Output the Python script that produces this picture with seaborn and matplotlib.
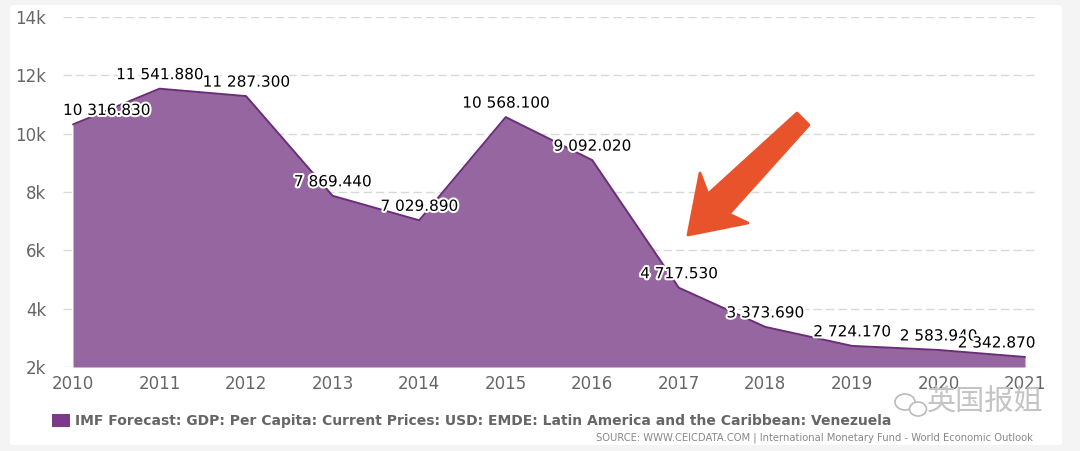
import matplotlib
matplotlib.use("Agg")
import matplotlib.pyplot as plt
import seaborn as sns
import pandas as pd
from matplotlib.patches import Polygon, FancyBboxPatch, Rectangle, Ellipse
import matplotlib.patheffects as pe

years = [2010, 2011, 2012, 2013, 2014, 2015, 2016, 2017, 2018, 2019, 2020, 2021]
gdp_per_capita = [10316.830, 11541.880, 11287.300, 7869.440, 7029.890, 10568.100,
                  9092.020, 4717.530, 3373.690, 2724.170, 2583.940, 2342.870]
y_ticks = [2000, 4000, 6000, 8000, 10000, 12000, 14000]
y_tick_labels = ["2k", "4k", "6k", "8k", "10k", "12k", "14k"]
series_name = ("IMF Forecast: GDP: Per Capita: Current Prices: USD: EMDE: "
               "Latin America and the Caribbean: Venezuela")
source_text = ("SOURCE: WWW.CEICDATA.COM | International Monetary Fund - "
               "World Economic Outlook")
watermark = "英国报姐"

df = pd.DataFrame({"year": years, "value": gdp_per_capita})

sns.set_theme(style="white")
plt.rcParams["font.family"] = ["DejaVu Sans", "Noto Sans CJK SC"]

W, H = 1080, 451
fig = plt.figure(figsize=(W / 100, H / 100), dpi=100)
fig.patch.set_facecolor("#f4f4f4")
fig.patches.append(FancyBboxPatch((10 / W, 6 / H), 1052 / W, 440 / H,
                                  boxstyle="round,pad=0,rounding_size=0.004",
                                  transform=fig.transFigure, facecolor="white",
                                  edgecolor="none", zorder=-10))

ax = fig.add_axes([63 / W, 1 - 367 / H, (1035 - 63) / W, 350 / H])
ax.set_facecolor("none")
ax.set_zorder(1)

fill_color = "#9566a0"
line_color = "#6b2d7a"
ax.fill_between(df["year"], df["value"], 2000, color=fill_color, linewidth=0, zorder=2)
sns.lineplot(data=df, x="year", y="value", ax=ax, color=line_color, linewidth=1.4,
             zorder=3, legend=False)

ax.set_xlim(2010 - 10 / 86.55, 2021 + 10 / 86.55)
ax.set_ylim(2000, 14000)
ax.set_yticks(y_ticks)
ax.set_yticklabels(y_tick_labels)
ax.set_xticks(years)
ax.set_xticklabels([str(y) for y in years])
for s in ax.spines.values():
    s.set_visible(False)
ax.grid(axis="y", color="#d8d8d8", linestyle=(0, (6, 3)), linewidth=1, zorder=1)
ax.grid(axis="x", visible=False)
ax.set_axisbelow(True)
ax.tick_params(axis="y", length=0, pad=12, labelsize=12, labelcolor="#666666")
ax.tick_params(axis="x", length=0, pad=6, labelsize=12, labelcolor="#666666")
ax.set_xlabel("")
ax.set_ylabel("")

# data labels (kept inside the plot area)
fig.canvas.draw()
renderer = fig.canvas.get_renderer()
ax_bbox = ax.get_window_extent(renderer)
for x, v in zip(years, gdp_per_capita):
    txt = f"{v:,.3f}".replace(",", " ")
    t = ax.annotate(txt, (x, v), xytext=(0, 14), textcoords="offset pixels",
                    ha="center", va="center", fontsize=11, color="black", zorder=5,
                    path_effects=[pe.withStroke(linewidth=3, foreground="white")])
    bb = t.get_window_extent(renderer)
    dx = 0
    if bb.x0 < ax_bbox.x0:
        dx = ax_bbox.x0 - bb.x0
    elif bb.x1 > ax_bbox.x1:
        dx = ax_bbox.x1 - bb.x1
    if dx:
        t.set_position((dx, 14))

# legend
fig.patches.append(Rectangle((52 / W, 1 - 427 / H), 18 / W, 13 / H,
                             transform=fig.transFigure, facecolor="#7b3b8a",
                             edgecolor="none"))
fig.text(75 / W, 1 - 421 / H, series_name, fontsize=10.0, fontweight="bold",
         color="#666666", ha="left", va="center")
fig.text(1033 / W, 1 - 438 / H, source_text, fontsize=7.2, color="#888888",
         ha="right", va="center")

# arrow annotation
arrow_pts = [(688, 235), (700, 173), (708, 194), (797, 113), (809, 125),
             (729, 214), (748, 223)]
fig.patches.append(Polygon([(px / W, 1 - py / H) for px, py in arrow_pts],
                           closed=True, transform=fig.transFigure,
                           facecolor="#e9532b", edgecolor="#e9532b",
                           linewidth=2, joinstyle="round", zorder=6))

# watermark
fig.patches.append(Ellipse((905 / W, 1 - 402 / H), 20 / W, 16 / H,
                           transform=fig.transFigure, facecolor="none",
                           edgecolor="#bbbbbb", linewidth=1.2))
fig.patches.append(Ellipse((918 / W, 1 - 409 / H), 17 / W, 14 / H,
                           transform=fig.transFigure, facecolor="white",
                           edgecolor="#bbbbbb", linewidth=1.2))
fig.text(985 / W, 1 - 403 / H, watermark, fontsize=21, color="#c4c4c4",
         ha="center", va="center", family=["Noto Sans CJK SC", "DejaVu Sans"],
         fontweight="light")

fig.savefig("out.png", dpi=100, facecolor=fig.get_facecolor())
